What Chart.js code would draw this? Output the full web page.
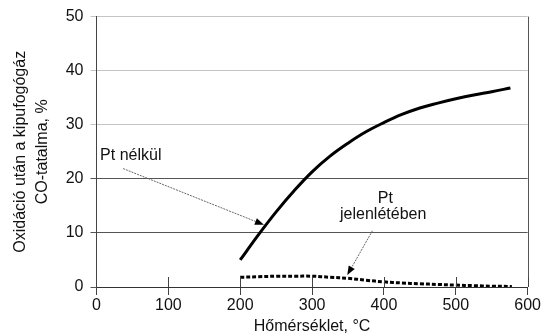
<!DOCTYPE html>
<html>
<head>
<meta charset="utf-8">
<script src="https://cdn.jsdelivr.net/npm/chart.js@4/dist/chart.umd.min.js"></script>
<style>
html,body{margin:0;padding:0;background:#fff;}
#wrap{width:542px;height:336px;}
</style>
</head>
<body>
<div id="wrap"><canvas id="c" width="542" height="336"></canvas></div>
<script>
// Data
const tempNoPt = [200,225,250,275,300,325,350,375,400,425,450,475,500,525,550,576];
const coNoPt   = [5,9.6,13.9,17.8,21.3,24.2,26.6,28.7,30.4,31.9,33.1,34.0,34.8,35.5,36.1,36.8];
const tempPt   = [200,225,250,275,300,325,350,375,400,425,450,475,500,525,550,578];
const coPt     = [1.8,1.9,2.0,2.0,2.0,1.8,1.6,1.25,0.95,0.75,0.6,0.47,0.35,0.25,0.15,0.1];
const xTicks   = [0,100,200,300,400,500,600];
const yTicks   = [0,10,20,30,40,50];
const yTitle   = ['Oxidáció után a kipufogógáz','CO-tatalma, %'];
const xTitle   = 'Hőmérséklet, °C';
const labelNoPt = ['Pt nélkül'];
const labelPt   = ['Pt','jelenlétében'];

const FONT = "'Liberation Sans', Arial, sans-serif";
const gridColor = v => (v >= 30 ? '#c4c4c4' : '#555');

const annot = {
  id: 'annot',
  afterDatasetsDraw(chart) {
    const {ctx, chartArea: a, scales: {x, y}} = chart;
    ctx.save();
    // right border
    ctx.strokeStyle = '#555'; ctx.lineWidth = 1;
    ctx.beginPath(); ctx.moveTo(Math.round(a.right)+0.5, a.top); ctx.lineTo(Math.round(a.right)+0.5, a.bottom); ctx.stroke();
    // upper part of crossing x ticks
    ctx.strokeStyle = '#444';
    xTicks.forEach(v => {
      if (v === 0) return;
      const px = Math.round(x.getPixelForValue(v)) + 0.5;
      ctx.beginPath(); ctx.moveTo(px, a.bottom - 10); ctx.lineTo(px, a.bottom); ctx.stroke();
    });
    // annotations
    ctx.fillStyle = '#111';
    ctx.font = '16px ' + FONT;
    ctx.textBaseline = 'alphabetic';
    ctx.textAlign = 'left';
    ctx.fillText(labelNoPt[0], x.getPixelForValue(5), y.getPixelForValue(23.4));
    ctx.textAlign = 'center';
    ctx.fillText(labelPt[0], x.getPixelForValue(402), y.getPixelForValue(15.5));
    ctx.fillText(labelPt[1], x.getPixelForValue(399), y.getPixelForValue(12.6));
    function arrow(x1, y1, x2, y2) {
      const p1 = [x.getPixelForValue(x1), y.getPixelForValue(y1)];
      const p2 = [x.getPixelForValue(x2), y.getPixelForValue(y2)];
      const ang = Math.atan2(p2[1]-p1[1], p2[0]-p1[0]);
      const L = 9, W = 3.5;
      ctx.strokeStyle = '#666'; ctx.lineWidth = 1; ctx.setLineDash([2,1]);
      ctx.beginPath(); ctx.moveTo(p1[0], p1[1]);
      ctx.lineTo(p2[0] - L*Math.cos(ang), p2[1] - L*Math.sin(ang)); ctx.stroke();
      ctx.setLineDash([]);
      ctx.fillStyle = '#000';
      ctx.beginPath();
      ctx.moveTo(p2[0], p2[1]);
      ctx.lineTo(p2[0] - L*Math.cos(ang) + W*Math.sin(ang), p2[1] - L*Math.sin(ang) - W*Math.cos(ang));
      ctx.lineTo(p2[0] - L*Math.cos(ang) - W*Math.sin(ang), p2[1] - L*Math.sin(ang) + W*Math.cos(ang));
      ctx.closePath(); ctx.fill();
    }
    arrow(37, 21.9, 233, 11.5);
    arrow(384, 10.4, 349, 2.2);
    ctx.restore();
  }
};

new Chart(document.getElementById('c'), {
  type: 'scatter',
  data: {
    datasets: [
      {
        label: labelNoPt[0],
        data: tempNoPt.map((t, i) => ({x: t, y: coNoPt[i]})),
        showLine: true, borderColor: '#000', borderWidth: 3,
        pointRadius: 0, tension: 0.4, fill: false
      },
      {
        label: labelPt.join(' '),
        data: tempPt.map((t, i) => ({x: t, y: coPt[i]})),
        showLine: true, borderColor: '#000', borderWidth: 3, borderDash: [4,2],
        pointRadius: 0, tension: 0.4, fill: false
      }
    ]
  },
  options: {
    responsive: false,
    animation: false,
    layout: {padding: {top: 16, right: 12, left: 0, bottom: 0}},
    plugins: {legend: {display: false}, tooltip: {enabled: false}},
    scales: {
      x: {
        type: 'linear', min: 0, max: 600,
        afterBuildTicks: s => { s.ticks = xTicks.map(v => ({value: v})); },
        afterFit: s => { s.height = 49; },
        grid: {drawOnChartArea: false, drawTicks: true, tickLength: 8, color: '#444'},
        border: {display: true, color: '#333', width: 1},
        ticks: {color: '#111', font: {family: FONT, size: 16}, padding: 1, maxRotation: 0},
        title: {display: true, text: xTitle, color: '#111', font: {family: FONT, size: 16}, padding: {top: 0, bottom: 0}}
      },
      y: {
        type: 'linear', min: 0, max: 50,
        afterBuildTicks: s => { s.ticks = yTicks.map(v => ({value: v})); },
        afterFit: s => { s.width = 96.5; },
        grid: {drawOnChartArea: true, drawTicks: true, tickLength: 6,
               color: c => gridColor(c.tick ? c.tick.value : 0), lineWidth: 1},
        border: {display: true, color: '#444', width: 1},
        ticks: {color: '#111', font: {family: FONT, size: 16}, padding: 7},
        title: {display: true, text: yTitle, color: '#111', font: {family: FONT, size: 16, lineHeight: 1.4}, padding: {top: 9, bottom: 0}}
      }
    }
  },
  plugins: [annot]
});
</script>
</body>
</html>
